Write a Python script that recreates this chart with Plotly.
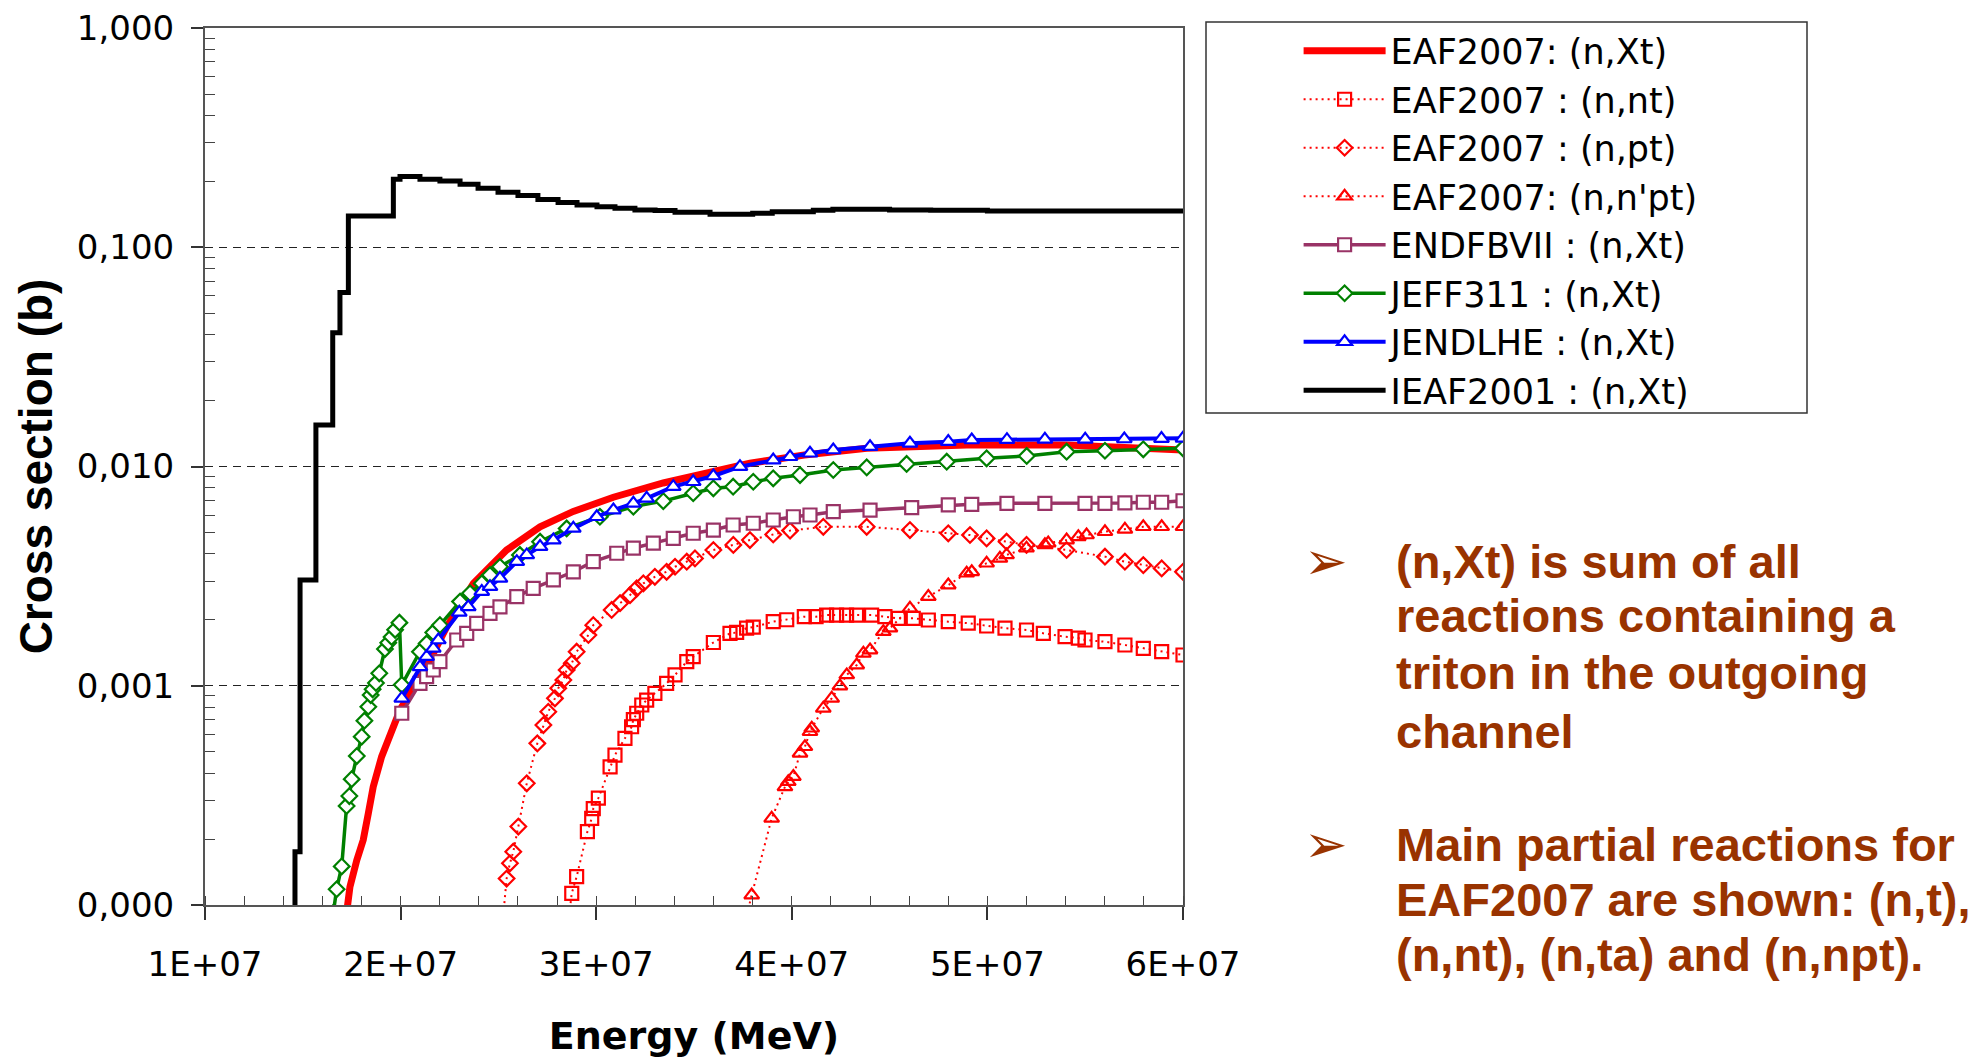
import plotly.graph_objects as go

# ---------------------------------------------------------------------------
# Triton-production cross sections (b) versus incident energy
# ---------------------------------------------------------------------------

# EAF2007 (n,Xt)
eaf_xt_e = [1.724e7, 1.741e7, 1.776e7, 1.809e7, 1.835e7, 1.860e7, 1.903e7, 1.946e7,
            1.980e7, 2.006e7, 2.133e7, 2.236e7, 2.372e7, 2.542e7, 2.713e7, 2.883e7,
            3.088e7, 3.343e7, 3.599e7, 3.786e7, 4.064e7, 4.383e7, 4.894e7, 5.405e7, 6.000e7]
eaf_xt_xs = [9.2e-5, 1.21e-4, 1.60e-4, 1.98e-4, 2.62e-4, 3.46e-4, 4.75e-4, 6.07e-4,
             7.10e-4, 8.02e-4, 1.22e-3, 1.86e-3, 2.93e-3, 4.16e-3, 5.31e-3, 6.24e-3,
             7.24e-3, 8.41e-3, 9.55e-3, 1.035e-2, 1.128e-2, 1.211e-2, 1.253e-2, 1.253e-2, 1.19e-2]

# EAF2007 (n,nt)
eaf_nt_e = [2.862e7, 2.875e7, 2.900e7, 2.955e7, 2.977e7, 2.985e7, 3.011e7, 3.071e7, 3.096e7,
            3.147e7, 3.181e7, 3.190e7, 3.207e7, 3.233e7, 3.258e7, 3.300e7, 3.360e7, 3.403e7,
            3.463e7, 3.496e7, 3.599e7, 3.684e7, 3.718e7, 3.769e7, 3.803e7, 3.905e7, 3.974e7,
            4.064e7, 4.124e7, 4.178e7, 4.229e7, 4.280e7, 4.331e7, 4.408e7, 4.476e7, 4.545e7,
            4.621e7, 4.698e7, 4.800e7, 4.902e7, 4.996e7, 5.090e7, 5.200e7, 5.286e7, 5.397e7,
            5.465e7, 5.499e7, 5.601e7, 5.703e7, 5.797e7, 5.891e7, 6.000e7]
eaf_nt_xs = [9.0e-5, 1.13e-4, 1.346e-4, 2.16e-4, 2.485e-4, 2.75e-4, 3.07e-4, 4.27e-4, 4.83e-4,
             5.76e-4, 6.50e-4, 7.0e-4, 7.49e-4, 8.17e-4, 8.6e-4, 9.24e-4, 1.026e-3, 1.12e-3,
             1.288e-3, 1.357e-3, 1.575e-3, 1.734e-3, 1.75e-3, 1.83e-3, 1.85e-3, 1.96e-3, 2.0e-3,
             2.065e-3, 2.065e-3, 2.10e-3, 2.10e-3, 2.10e-3, 2.10e-3, 2.10e-3, 2.065e-3, 2.03e-3,
             2.03e-3, 1.995e-3, 1.96e-3, 1.93e-3, 1.873e-3, 1.83e-3, 1.796e-3, 1.734e-3, 1.674e-3,
             1.65e-3, 1.617e-3, 1.588e-3, 1.534e-3, 1.482e-3, 1.43e-3, 1.381e-3]

# EAF2007 (n,pt)
eaf_pt_e = [2.525e7, 2.542e7, 2.559e7, 2.576e7, 2.602e7, 2.645e7, 2.699e7, 2.730e7, 2.755e7,
            2.789e7, 2.806e7, 2.832e7, 2.849e7, 2.875e7, 2.900e7, 2.960e7, 2.985e7, 3.079e7,
            3.122e7, 3.173e7, 3.207e7, 3.241e7, 3.300e7, 3.360e7, 3.403e7, 3.463e7, 3.505e7,
            3.599e7, 3.701e7, 3.786e7, 3.905e7, 3.991e7, 4.161e7, 4.383e7, 4.604e7, 4.800e7,
            4.911e7, 4.996e7, 5.098e7, 5.200e7, 5.405e7, 5.601e7, 5.703e7, 5.797e7, 5.891e7, 6.000e7]
eaf_pt_xs = [9.0e-5, 1.32e-4, 1.55e-4, 1.75e-4, 2.28e-4, 3.59e-4, 5.46e-4, 6.62e-4, 7.61e-4,
             8.76e-4, 9.74e-4, 1.062e-3, 1.18e-3, 1.266e-3, 1.43e-3, 1.704e-3, 1.89e-3, 2.216e-3,
             2.38e-3, 2.59e-3, 2.78e-3, 2.93e-3, 3.14e-3, 3.31e-3, 3.49e-3, 3.68e-3, 3.81e-3,
             4.16e-3, 4.39e-3, 4.62e-3, 4.90e-3, 5.10e-3, 5.31e-3, 5.31e-3, 5.13e-3, 4.96e-3,
             4.87e-3, 4.70e-3, 4.54e-3, 4.39e-3, 4.16e-3, 3.88e-3, 3.68e-3, 3.55e-3, 3.43e-3, 3.31e-3]

# EAF2007 (n,n'pt)
eaf_npt_e = [3.770e7, 3.795e7, 3.897e7, 3.965e7, 3.982e7, 4.008e7, 4.042e7, 4.067e7, 4.093e7,
             4.102e7, 4.161e7, 4.204e7, 4.246e7, 4.281e7, 4.332e7, 4.366e7, 4.400e7, 4.468e7,
             4.502e7, 4.604e7, 4.698e7, 4.800e7, 4.894e7, 4.920e7, 4.996e7, 5.064e7, 5.098e7,
             5.200e7, 5.294e7, 5.311e7, 5.405e7, 5.465e7, 5.507e7, 5.601e7, 5.703e7, 5.797e7,
             5.891e7, 6.000e7]
eaf_npt_xs = [9.0e-5, 1.11e-4, 2.485e-4, 3.46e-4, 3.65e-4, 3.85e-4, 4.92e-4, 5.27e-4, 6.17e-4,
              6.40e-4, 7.89e-4, 8.76e-4, 9.97e-4, 1.12e-3, 1.243e-3, 1.406e-3, 1.455e-3, 1.764e-3,
              1.83e-3, 2.255e-3, 2.55e-3, 2.88e-3, 3.26e-3, 3.31e-3, 3.62e-3, 3.81e-3, 3.95e-3,
              4.24e-3, 4.39e-3, 4.47e-3, 4.62e-3, 4.78e-3, 4.87e-3, 5.04e-3, 5.17e-3, 5.31e-3,
              5.31e-3, 5.31e-3]

# ENDF/B-VII (n,Xt)
endf_e = [2.006e7, 2.099e7, 2.133e7, 2.167e7, 2.201e7, 2.287e7, 2.338e7, 2.389e7, 2.457e7,
          2.508e7, 2.594e7, 2.678e7, 2.781e7, 2.883e7, 2.985e7, 3.105e7, 3.190e7, 3.292e7,
          3.394e7, 3.496e7, 3.599e7, 3.700e7, 3.803e7, 3.905e7, 4.008e7, 4.093e7, 4.212e7,
          4.400e7, 4.613e7, 4.800e7, 4.920e7, 5.100e7, 5.294e7, 5.499e7, 5.601e7, 5.703e7,
          5.797e7, 5.891e7, 6.000e7]
endf_xs = [7.49e-4, 1.026e-3, 1.10e-3, 1.18e-3, 1.288e-3, 1.617e-3, 1.734e-3, 1.927e-3, 2.14e-3,
           2.29e-3, 2.55e-3, 2.78e-3, 3.04e-3, 3.31e-3, 3.68e-3, 4.02e-3, 4.24e-3, 4.47e-3,
           4.70e-3, 4.96e-3, 5.13e-3, 5.41e-3, 5.51e-3, 5.70e-3, 5.90e-3, 6.01e-3, 6.22e-3,
           6.33e-3, 6.49e-3, 6.68e-3, 6.72e-3, 6.79e-3, 6.79e-3, 6.79e-3, 6.79e-3, 6.82e-3,
           6.87e-3, 6.87e-3, 6.98e-3]

# JEFF-3.1.1 (n,Xt)
jeff_e = [1.656e7, 1.673e7, 1.699e7, 1.724e7, 1.738e7, 1.750e7, 1.776e7, 1.801e7, 1.815e7,
          1.835e7, 1.847e7, 1.857e7, 1.874e7, 1.891e7, 1.920e7, 1.937e7, 1.954e7, 1.972e7,
          1.994e7, 2.006e7, 2.099e7, 2.133e7, 2.167e7, 2.201e7, 2.304e7, 2.355e7, 2.415e7,
          2.457e7, 2.508e7, 2.610e7, 2.713e7, 2.849e7, 3.019e7, 3.190e7, 3.343e7, 3.496e7,
          3.599e7, 3.700e7, 3.803e7, 3.905e7, 4.042e7, 4.212e7, 4.383e7, 4.587e7, 4.792e7,
          4.996e7, 5.201e7, 5.405e7, 5.601e7, 5.797e7, 6.000e7]
jeff_xs = [9.2e-5, 1.18e-4, 1.50e-4, 2.83e-4, 3.14e-4, 3.75e-4, 4.78e-4, 5.86e-4, 6.93e-4,
           8.02e-4, 9.07e-4, 9.63e-4, 1.03e-3, 1.14e-3, 1.47e-3, 1.57e-3, 1.67e-3, 1.80e-3,
           1.94e-3, 1.01e-3, 1.43e-3, 1.56e-3, 1.75e-3, 1.89e-3, 2.42e-3, 2.64e-3, 2.93e-3,
           3.20e-3, 3.49e-3, 3.95e-3, 4.54e-3, 5.22e-3, 5.90e-3, 6.56e-3, 6.95e-3, 7.55e-3,
           7.95e-3, 8.09e-3, 8.52e-3, 8.83e-3, 9.14e-3, 9.64e-3, 9.91e-3, 1.027e-2, 1.052e-2,
           1.09e-2, 1.117e-2, 1.168e-2, 1.18e-2, 1.198e-2, 1.21e-2]

# JENDL/HE (n,Xt)
jendl_e = [2.006e7, 2.099e7, 2.133e7, 2.167e7, 2.193e7, 2.300e7, 2.346e7, 2.415e7, 2.457e7,
           2.508e7, 2.594e7, 2.645e7, 2.713e7, 2.781e7, 2.883e7, 3.003e7, 3.088e7, 3.190e7,
           3.258e7, 3.394e7, 3.496e7, 3.599e7, 3.735e7, 3.905e7, 3.991e7, 4.093e7, 4.212e7,
           4.400e7, 4.604e7, 4.800e7, 4.920e7, 5.100e7, 5.294e7, 5.500e7, 5.700e7, 5.890e7, 6.000e7]
jendl_xs = [8.76e-4, 1.22e-3, 1.357e-3, 1.48e-3, 1.617e-3, 2.16e-3, 2.29e-3, 2.69e-3, 2.83e-3,
            3.09e-3, 3.68e-3, 3.95e-3, 4.31e-3, 4.62e-3, 5.22e-3, 5.90e-3, 6.33e-3, 6.79e-3,
            7.16e-3, 8.09e-3, 8.52e-3, 9.05e-3, 9.98e-3, 1.070e-2, 1.108e-2, 1.149e-2, 1.189e-2,
            1.231e-2, 1.276e-2, 1.298e-2, 1.321e-2, 1.325e-2, 1.33e-2, 1.33e-2, 1.335e-2, 1.34e-2, 1.345e-2]

# IEAF-2001 (n,Xt), group-wise (piecewise constant)
ieaf_e = [1.419e7, 1.460e7, 1.486e7, 1.567e7, 1.653e7, 1.690e7, 1.733e7, 1.963e7, 1.997e7,
          2.099e7, 2.201e7, 2.304e7, 2.396e7, 2.498e7, 2.600e7, 2.702e7, 2.805e7, 2.902e7,
          3.004e7, 3.096e7, 3.198e7, 3.301e7, 3.403e7, 3.582e7, 3.800e7, 3.900e7, 4.110e7,
          4.210e7, 4.500e7, 4.710e7, 5.000e7, 6.000e7]
ieaf_xs = [9.5e-5, 1.75e-4, 3.04e-3, 1.546e-2, 4.07e-2, 6.21e-2, 1.389e-1, 2.04e-1, 2.10e-1,
           2.04e-1, 2.005e-1, 1.94e-1, 1.86e-1, 1.78e-1, 1.72e-1, 1.65e-1, 1.60e-1, 1.56e-1,
           1.53e-1, 1.505e-1, 1.48e-1, 1.47e-1, 1.444e-1, 1.414e-1, 1.43e-1, 1.453e-1, 1.475e-1,
           1.49e-1, 1.48e-1, 1.475e-1, 1.463e-1, 1.463e-1]

# Axis ticks and labels
x_ticks = [1e7, 2e7, 3e7, 4e7, 5e7, 6e7]
x_tick_labels = ["1E+07", "2E+07", "3E+07", "4E+07", "5E+07", "6E+07"]
y_ticks = [1e-4, 1e-3, 1e-2, 1e-1, 1.0]
y_tick_labels = ["0,000", "0,001", "0,010", "0,100", "1,000"]
y_minor = [m * 10.0 ** p for p in range(-4, 0) for m in range(2, 10)]

# Side notes
note_lines = [
    "(n,Xt) is sum of all",
    "reactions containing a",
    "triton in the outgoing",
    "channel",
    "Main partial reactions for",
    "EAF2007 are shown: (n,t),",
    "(n,nt), (n,ta) and (n,npt).",
]

# ---------------------------------------------------------------------------
W, H = 1982, 1060
PL, PR, PT, PB = 205, 1183, 28, 905
WIDE = "DejaVu Sans, Verdana, sans-serif"
ARIAL = "Liberation Sans, Arial, Helvetica, sans-serif"
RED = "#FF0000"
PURPLE = "#993366"
GREEN = "#008000"
BLUE = "#0000FF"
BROWN = "#993300"


def paper_x(px):
    return (px - PL) / (PR - PL)


def paper_y(py):
    return (PB - py) / (PB - PT)


fig = go.Figure()

fig.add_trace(go.Scatter(
    x=eaf_xt_e, y=eaf_xt_xs, mode="lines", name="EAF2007: (n,Xt)",
    line=dict(color=RED, width=7)))

dotted = "2px,4px"
fig.add_trace(go.Scatter(
    x=eaf_nt_e, y=eaf_nt_xs, mode="lines+markers", name="EAF2007 : (n,nt)",
    line=dict(color=RED, width=2, dash=dotted),
    marker=dict(symbol="square-open", size=13, color=RED, line=dict(width=2.2, color=RED))))
fig.add_trace(go.Scatter(
    x=eaf_pt_e, y=eaf_pt_xs, mode="lines+markers", name="EAF2007 : (n,pt)",
    line=dict(color=RED, width=2, dash=dotted),
    marker=dict(symbol="diamond-open", size=12, color=RED, line=dict(width=2.2, color=RED))))
fig.add_trace(go.Scatter(
    x=eaf_npt_e, y=eaf_npt_xs, mode="lines+markers", name="EAF2007: (n,n'pt)",
    line=dict(color=RED, width=2, dash=dotted),
    marker=dict(symbol="triangle-up-open", size=13, color=RED, line=dict(width=2.2, color=RED))))

fig.add_trace(go.Scatter(
    x=endf_e, y=endf_xs, mode="lines+markers", name="ENDFBVII : (n,Xt)",
    line=dict(color=PURPLE, width=3.5),
    marker=dict(symbol="square", size=13, color="white", line=dict(width=2.2, color=PURPLE))))
fig.add_trace(go.Scatter(
    x=jeff_e, y=jeff_xs, mode="lines+markers", name="JEFF311 : (n,Xt)",
    line=dict(color=GREEN, width=3.5),
    marker=dict(symbol="diamond", size=12, color="white", line=dict(width=2.2, color=GREEN))))
fig.add_trace(go.Scatter(
    x=jendl_e, y=jendl_xs, mode="lines+markers", name="JENDLHE : (n,Xt)",
    line=dict(color=BLUE, width=4),
    marker=dict(symbol="triangle-up", size=13, color="white", line=dict(width=2.2, color=BLUE))))
fig.add_trace(go.Scatter(
    x=ieaf_e, y=ieaf_xs, mode="lines", name="IEAF2001 : (n,Xt)",
    line=dict(color="black", width=5, shape="hv")))

tick_font = dict(family=WIDE, size=34, color="black")

fig.update_xaxes(
    range=[1e7, 6e7], tickmode="array", tickvals=x_ticks, ticktext=x_tick_labels,
    ticks="outside", ticklen=13, tickwidth=1.5, tickcolor="#333",
    showline=True, linecolor="#555", linewidth=2, mirror=True,
    showgrid=False, zeroline=False, tickfont=tick_font, ticklabelstandoff=15,
    minor=dict(ticks="inside", ticklen=9, tickwidth=1, tickcolor="#444",
               tick0=1e7, dtick=2e6, showgrid=False),
    title=dict(text="<b>Energy (MeV)</b>",
               font=dict(family=WIDE, size=38, color="black"), standoff=40),
)
fig.update_yaxes(
    type="log", range=[-4, 0], tickmode="array", tickvals=y_ticks, ticktext=y_tick_labels,
    ticks="outside", ticklen=12, tickwidth=1.5, tickcolor="#333",
    showline=True, linecolor="#555", linewidth=2, mirror=True,
    showgrid=True, gridcolor="#222", gridwidth=1, griddash="8px,6px",
    zeroline=False, tickfont=tick_font, ticklabelstandoff=10,
    minor=dict(tickmode="array", tickvals=y_minor, ticks="inside", ticklen=10,
               tickwidth=1, tickcolor="#444", showgrid=False),
    title=dict(text="<b>Cross section (b)</b>",
               font=dict(family=ARIAL, size=46, color="black"), standoff=10),
)

# inner half of the major x ticks (ticks cross the axis line)
fig.update_layout(xaxis2=dict(
    overlaying="x", matches="x", anchor="y", side="bottom",
    tickmode="array", tickvals=x_ticks, showticklabels=False,
    ticks="inside", ticklen=12, tickwidth=1.5, tickcolor="#333",
    showline=False, showgrid=False, zeroline=False,
))

# legend frame
fig.add_shape(type="rect", xref="paper", yref="paper",
              x0=paper_x(1206), x1=paper_x(1807), y0=paper_y(413), y1=paper_y(22),
              line=dict(color="#333", width=1.5), fillcolor="rgba(0,0,0,0)")

annotations = []
note_y = [561, 616, 672, 731, 844, 899, 954]
for text, py in zip(note_lines, note_y):
    annotations.append(dict(
        text="<b>%s</b>" % text, xref="paper", yref="paper",
        x=paper_x(1394), y=paper_y(py), xanchor="left", yanchor="middle",
        showarrow=False, font=dict(family=ARIAL, size=47, color=BROWN)))
for py in (note_y[0], note_y[4]):
    annotations.append(dict(
        text="\u27a2", xref="paper", yref="paper",
        x=paper_x(1326), y=paper_y(py), xanchor="center", yanchor="middle",
        showarrow=False, font=dict(family="DejaVu Sans", size=52, color=BROWN)))

fig.update_layout(
    width=W, height=H,
    margin=dict(l=PL, r=W - PR, t=PT, b=H - PB, autoexpand=False),
    paper_bgcolor="white", plot_bgcolor="white",
    font=dict(family=WIDE, color="black"),
    showlegend=True,
    legend=dict(
        x=paper_x(1298.6), y=paper_y(21.5), xanchor="left", yanchor="top",
        bgcolor="rgba(0,0,0,0)", borderwidth=0, itemwidth=82,
        font=dict(family=WIDE, size=35, color="black"), tracegroupgap=0,
        itemclick=False, itemdoubleclick=False,
    ),
    annotations=annotations,
)

fig.write_html("out.html")
